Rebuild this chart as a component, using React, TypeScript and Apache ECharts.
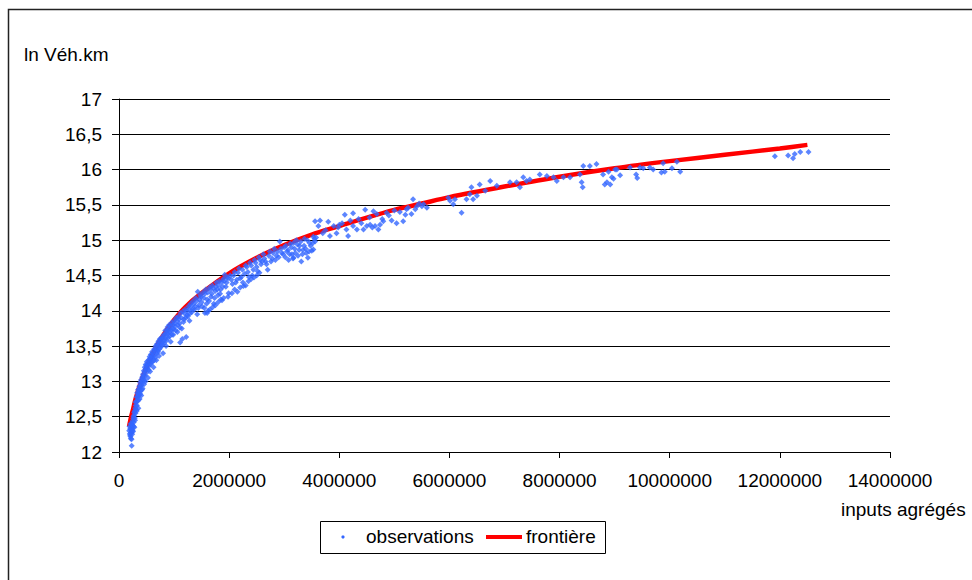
import React, { useEffect, useRef } from "react";
import * as echarts from "echarts";

const yTicks = [12, 12.5, 13, 13.5, 14, 14.5, 15, 15.5, 16, 16.5, 17];
const xTickStep = 2000000;

const frontierX = [182000, 220000, 260000, 300000, 400000, 500000, 600000, 700000, 800000, 1000000, 1200000, 1500000, 2000000, 2500000, 3000000, 3500000, 4000000, 4500000, 5000000, 5500000, 6000000, 7000000, 8000000, 9000000, 10000000, 11000000, 12000000, 12500000];
const frontierY = [12.36, 12.5, 12.62, 12.75, 13.0, 13.2, 13.37, 13.52, 13.65, 13.87, 14.05, 14.25, 14.53, 14.75, 14.93, 15.08, 15.2, 15.32, 15.43, 15.52, 15.61, 15.76, 15.9, 16.02, 16.12, 16.21, 16.3, 16.35];

const obsLow = [
  [185000, 12.30], [192000, 12.36], [198000, 12.26], [203000, 12.33], [208000, 12.22], [212000, 12.40], [218000, 12.28], [222000, 12.35], [228000, 12.18], [230000, 12.09], [235000, 12.31], [240000, 12.25], [245000, 12.44], [250000, 12.38], [255000, 12.29], [262000, 12.50], [268000, 12.42], [275000, 12.56], [280000, 12.35], [288000, 12.48], [295000, 12.62],
  [300000, 12.55], [305000, 12.70], [312000, 12.60], [318000, 12.78], [325000, 12.66], [330000, 12.84], [338000, 12.72], [345000, 12.88], [352000, 12.62], [360000, 12.80], [368000, 12.93], [375000, 12.75], [382000, 12.98], [390000, 12.86], [398000, 13.02], [405000, 12.80], [412000, 12.95], [420000, 13.06], [428000, 12.90], [435000, 13.10], [442000, 13.00], [450000, 13.15],
  [460000, 13.02], [468000, 13.20], [475000, 13.08], [485000, 13.24], [495000, 13.12], [505000, 13.28], [515000, 13.18], [525000, 13.05], [535000, 13.30], [545000, 13.22], [555000, 13.35], [565000, 13.14], [578000, 13.38], [590000, 13.27], [602000, 13.42], [615000, 13.33], [628000, 13.20], [640000, 13.46], [652000, 13.38], [665000, 13.50], [678000, 13.30], [690000, 13.53], [702000, 13.44], [715000, 13.57], [728000, 13.36], [742000, 13.60], [755000, 13.48], [770000, 13.62], [785000, 13.55], [800000, 13.40],
  [200000, 12.24], [210000, 12.32], [215000, 12.19], [225000, 12.27], [232000, 12.40], [238000, 12.34], [248000, 12.30], [258000, 12.47], [265000, 12.36], [272000, 12.52], [285000, 12.58], [292000, 12.45], [302000, 12.66], [310000, 12.72], [322000, 12.58], [335000, 12.78], [342000, 12.82], [355000, 12.74], [365000, 12.86], [372000, 12.90], [385000, 12.82], [395000, 12.94], [408000, 13.00], [418000, 12.88], [432000, 13.04], [445000, 13.08], [455000, 12.96], [472000, 13.14], [480000, 13.00], [490000, 13.18], [500000, 13.22], [520000, 13.24], [540000, 13.16], [550000, 13.28], [560000, 13.32], [575000, 13.24], [585000, 13.34], [598000, 13.36], [610000, 13.28], [620000, 13.40], [635000, 13.30], [648000, 13.44], [660000, 13.34], [672000, 13.46], [685000, 13.40], [698000, 13.50], [710000, 13.42], [722000, 13.52], [735000, 13.46], [748000, 13.56], [762000, 13.50], [778000, 13.60], [792000, 13.52],
];

const obsMid = [
  [812000, 13.66], [825000, 13.58], [840000, 13.72], [855000, 13.50], [868000, 13.68], [882000, 13.77], [895000, 13.62], [910000, 13.80], [925000, 13.70], [940000, 13.56], [955000, 13.83], [970000, 13.75], [985000, 13.66], [1000000, 13.86], [1020000, 13.78], [1040000, 13.90], [1060000, 13.70], [1080000, 13.92], [1100000, 13.82], [1110000, 13.55], [1120000, 13.97], [1140000, 13.75], [1150000, 13.60], [1160000, 13.99], [1180000, 13.88], [1200000, 14.02], [1220000, 13.63], [1240000, 13.94], [1260000, 14.06], [1280000, 13.86],
  [1300000, 14.10], [1320000, 13.98], [1345000, 14.14], [1370000, 14.02], [1395000, 14.18], [1420000, 13.95], [1430000, 14.27], [1450000, 14.08], [1475000, 14.22], [1500000, 14.12], [1525000, 14.26], [1550000, 14.04], [1575000, 14.30], [1600000, 14.16], [1620000, 14.00], [1645000, 14.33], [1670000, 14.20], [1695000, 14.36], [1720000, 14.10], [1745000, 14.28], [1770000, 14.40], [1795000, 14.22], [1820000, 14.42], [1845000, 14.30], [1870000, 14.15], [1895000, 14.45], [1920000, 14.51], [1940000, 14.34], [1965000, 14.47], [1990000, 14.25],
  [805000, 13.62], [818000, 13.54], [832000, 13.66], [848000, 13.62], [862000, 13.58], [875000, 13.72], [890000, 13.68], [902000, 13.74], [918000, 13.64], [932000, 13.78], [948000, 13.72], [962000, 13.66], [978000, 13.80], [992000, 13.74], [1010000, 13.82], [1030000, 13.72], [1050000, 13.86], [1070000, 13.80], [1090000, 13.88], [1105000, 13.76], [1130000, 13.90], [1170000, 13.84], [1190000, 13.96], [1210000, 13.90], [1230000, 14.00], [1250000, 13.92], [1270000, 14.02], [1290000, 13.96], [1310000, 14.06], [1335000, 14.02], [1360000, 14.10], [1385000, 14.06], [1410000, 14.14], [1440000, 14.04], [1460000, 14.16], [1490000, 14.20], [1510000, 14.06], [1540000, 14.18], [1560000, 14.24], [1590000, 14.10], [1610000, 14.26], [1635000, 14.14], [1660000, 14.30], [1685000, 14.24], [1710000, 14.32], [1735000, 14.18], [1760000, 14.34], [1785000, 14.30], [1810000, 14.36], [1835000, 14.24], [1860000, 14.40], [1885000, 14.34], [1910000, 14.42], [1955000, 14.40], [1980000, 14.46],
  [1560000, 13.97], [1600000, 13.97], [1650000, 14.02], [1700000, 14.05], [1750000, 14.08], [1800000, 14.12], [1850000, 14.16], [1900000, 14.18], [1980000, 14.20],
];

const obsUpperMid = [
  [2020000, 14.50], [2060000, 14.38], [2100000, 14.55], [2140000, 14.44], [2180000, 14.60], [2220000, 14.48], [2260000, 14.35], [2300000, 14.64], [2340000, 14.55], [2380000, 14.68], [2420000, 14.50], [2460000, 14.72], [2500000, 14.62], [2540000, 14.76], [2580000, 14.66], [2620000, 14.80], [2660000, 14.70], [2700000, 14.58], [2740000, 14.84], [2780000, 14.74], [2820000, 14.88], [2860000, 14.78], [2920000, 14.98], [2960000, 14.82], [3000000, 14.90],
  [3020000, 14.76], [3050000, 14.84], [3080000, 14.72], [3110000, 14.95], [3140000, 14.80], [3160000, 14.74], [3190000, 14.88], [3220000, 15.00], [3250000, 14.78], [3280000, 14.92], [3310000, 14.70], [3340000, 14.86], [3370000, 15.02], [3400000, 14.82], [3430000, 14.75], [3460000, 14.96], [3500000, 14.85], [3530000, 15.05], [3560000, 14.98],
  [2040000, 14.44], [2080000, 14.50], [2120000, 14.40], [2160000, 14.54], [2200000, 14.46], [2240000, 14.58], [2280000, 14.52], [2320000, 14.62], [2360000, 14.48], [2400000, 14.64], [2440000, 14.58], [2480000, 14.68], [2520000, 14.56], [2560000, 14.72], [2600000, 14.70], [2640000, 14.74], [2680000, 14.66], [2720000, 14.78], [2760000, 14.70], [2800000, 14.82], [2840000, 14.72], [2880000, 14.84], [2900000, 14.76], [2940000, 14.88], [2980000, 14.80], [3030000, 14.92], [3070000, 14.86], [3100000, 14.80], [3130000, 14.90], [3170000, 14.96], [3200000, 14.82], [3240000, 14.94], [3270000, 14.86], [3300000, 14.98], [3330000, 14.80], [3360000, 14.92], [3390000, 14.88], [3420000, 15.00], [3450000, 14.84], [3480000, 14.92], [3520000, 14.96], [3550000, 15.02], [3580000, 15.04],
  [2050000, 14.25], [2100000, 14.30], [2150000, 14.27], [2200000, 14.33], [2250000, 14.40], [2300000, 14.36], [2350000, 14.42], [2400000, 14.45], [2450000, 14.47], [2500000, 14.50], [2550000, 14.54], [3170000, 14.75], [3530000, 14.87],
];

const obsHigh = [
  [3560000, 15.27], [3650000, 15.28], [3800000, 15.26], [3620000, 15.20], [3830000, 15.06], [3980000, 15.18], [4000000, 15.22], [4130000, 15.15], [4160000, 15.06], [4250000, 15.20], [4100000, 15.36], [4250000, 15.38], [4320000, 15.15], [4350000, 15.30], [4440000, 15.15], [4470000, 15.43], [4500000, 15.20], [4560000, 15.22], [4620000, 15.41], [4650000, 15.20], [4680000, 15.37], [4710000, 15.15], [4740000, 15.22], [4800000, 15.27], [4860000, 15.39], [4900000, 15.35], [5040000, 15.24], [5100000, 15.40], [5160000, 15.27], [5220000, 15.44], [5310000, 15.37], [5340000, 15.58], [5410000, 15.48], [5450000, 15.52], [5530000, 15.51], [5590000, 15.46],
  [3700000, 15.10], [3750000, 15.14], [3900000, 15.20], [3950000, 15.10], [4050000, 15.24], [4200000, 15.28], [4400000, 15.24], [4550000, 15.32], [4600000, 15.18], [4780000, 15.30], [4950000, 15.28], [5000000, 15.42], [5200000, 15.36], [5250000, 15.46], [5380000, 15.44], [5500000, 15.48],
  [5980000, 15.60], [6010000, 15.56], [6070000, 15.51], [6100000, 15.58], [6220000, 15.39], [6310000, 15.58], [6370000, 15.65], [6400000, 15.75], [6430000, 15.58], [6500000, 15.63], [6550000, 15.79], [6650000, 15.70], [6740000, 15.84], [6860000, 15.77], [7100000, 15.82], [7220000, 15.82], [7280000, 15.75], [7340000, 15.89], [7400000, 15.84], [7460000, 15.86], [7640000, 15.93], [7770000, 15.91], [7890000, 15.89], [7950000, 15.84], [8070000, 15.89], [8190000, 15.89], [8370000, 15.93], [8400000, 15.82], [8420000, 15.75], [8430000, 16.05], [8550000, 16.05], [8670000, 16.08],
  [8790000, 15.93], [8820000, 15.79], [8860000, 15.82], [8890000, 15.97], [8920000, 15.79], [8950000, 15.89], [8980000, 15.87], [9010000, 16.00], [9040000, 16.00], [9100000, 15.92], [9280000, 16.03], [9390000, 15.93], [9410000, 15.88], [9460000, 16.03], [9520000, 16.02], [9640000, 16.03], [9700000, 16.00], [9850000, 15.96], [9880000, 16.09], [9910000, 15.97], [10040000, 16.02], [10130000, 16.11], [10190000, 15.97],
  [11910000, 16.19], [12150000, 16.20], [12240000, 16.16], [12270000, 16.22], [12370000, 16.25], [12520000, 16.25],
];

const FONT = "Liberation Sans, Arial, sans-serif";
const BLUE = "#3366ff";

export default function App() {
  const ref = useRef<HTMLDivElement>(null);
  useEffect(() => {
    const chart = echarts.init(ref.current!, undefined, { renderer: "svg" });
    const observations = [...obsLow, ...obsMid, ...obsUpperMid, ...obsHigh];
    const frontier = frontierX.map((x, i) => [x, frontierY[i]]);
    chart.setOption({
      animation: false,
      backgroundColor: "#fff",
      grid: { left: 119, top: 99, width: 771, height: 353 },
      xAxis: {
        type: "value",
        min: 0,
        max: 14000000,
        interval: xTickStep,
        axisLine: { show: true, lineStyle: { color: "#000", width: 1 } },
        axisTick: { show: true, length: 6, lineStyle: { color: "#000" } },
        splitLine: { show: false },
        axisLabel: { margin: 19, color: "#000", fontSize: 19, fontFamily: FONT, formatter: (v: number) => String(v) },
      },
      yAxis: {
        type: "value",
        min: yTicks[0],
        max: yTicks[yTicks.length - 1],
        interval: 0.5,
        axisLine: { show: true, lineStyle: { color: "#000", width: 1 } },
        axisTick: { show: true, length: 7, lineStyle: { color: "#000" } },
        splitLine: { show: true, lineStyle: { color: "#000", width: 1 } },
        axisLabel: { margin: 17, color: "#000", fontSize: 19, fontFamily: FONT, formatter: (v: number) => String(v).replace(".", ",") },
      },
      series: [
        {
          name: "frontière",
          type: "line",
          data: frontier,
          showSymbol: false,
          smooth: 0.3,
          lineStyle: { color: "#ff0000", width: 4.5 },
          z: 2,
        },
        {
          name: "observations",
          type: "scatter",
          data: observations,
          symbol: "diamond",
          symbolSize: 6,
          itemStyle: { color: BLUE },
          z: 3,
        },
      ],
      graphic: [
        { type: "rect", shape: { x: 8.5, y: 9.5, width: 2000, height: 2000 }, style: { fill: "none", stroke: "#222", lineWidth: 1.5 }, silent: true },
        { type: "text", left: 24, top: 45, style: { text: "ln Véh.km", fill: "#000", fontSize: 19, fontFamily: FONT } },
        { type: "text", left: 841, top: 500, style: { text: "inputs agrégés", fill: "#000", fontSize: 19, fontFamily: FONT } },
        { type: "rect", shape: { x: 320.5, y: 521.5, width: 285, height: 32 }, style: { fill: "#fff", stroke: "#000", lineWidth: 1 } },
        { type: "circle", shape: { cx: 343, cy: 537, r: 1.6 }, style: { fill: BLUE } },
        { type: "text", left: 366, top: 527, style: { text: "observations", fill: "#000", fontSize: 19, fontFamily: FONT } },
        { type: "line", shape: { x1: 486, y1: 537, x2: 522, y2: 537 }, style: { stroke: "#ff0000", lineWidth: 4 } },
        { type: "text", left: 526, top: 527, style: { text: "frontière", fill: "#000", fontSize: 19, fontFamily: FONT } },
      ],
    });
    return () => chart.dispose();
  }, []);
  return <div ref={ref} style={{ position: "absolute", left: 0, top: 0, width: 972, height: 580 }} />;
}
